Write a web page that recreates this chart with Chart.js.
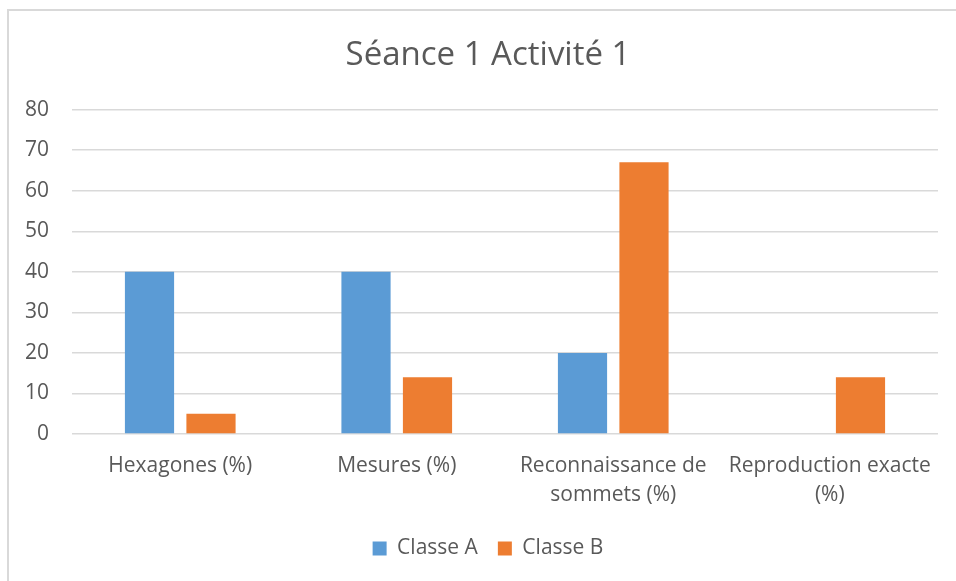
<!DOCTYPE html>
<html>
<head>
<meta charset="utf-8">
<script src="https://cdn.jsdelivr.net/npm/chart.js"></script>
<style>
    body { margin: 0; overflow: hidden; background: #ffffff; }
    #chart_container { position: relative; width: 956px; height: 581px; overflow: hidden; }
    #frame { position: absolute; left: 7px; top: 9px; width: 1000px; height: 700px; border: 2px solid #d9d9d9; }
    #myBarChart { position: absolute; left: 0; top: 0; }
</style>
</head>
<body>
<div id="chart_container">
    <div id="frame"></div>
    <canvas id="myBarChart" width="956" height="581"></canvas>
</div>
<script>
var categories = [
    "Hexagones (%)",
    "Mesures (%)",
    ["Reconnaissance de", "sommets (%)"],
    ["Reproduction exacte", "(%)"]
];
var classeA = [40, 40, 20, 0];
var classeB = [5, 14, 67, 14];
var yTicks = [0, 10, 20, 30, 40, 50, 60, 70, 80];

function makeAChart(){

    var ctx = document.getElementById("myBarChart").getContext('2d');
    Chart.defaults.font.family = "'Open Sans'";
    Chart.defaults.color = "#595959";

    var myBarChart = new Chart(ctx, {
        type: 'bar',
        data: {
            labels: categories,
            datasets: [{
                label: 'Classe A',
                data: classeA,
                backgroundColor: "#5b9bd5",
                categoryPercentage: 0.568,
                barPercentage: 0.8
            }, {
                label: 'Classe B',
                data: classeB,
                backgroundColor: "#ed7d31",
                categoryPercentage: 0.568,
                barPercentage: 0.8
            }]
        },
        options: {
            responsive: false,
            animation: false,
            layout: { padding: { left: 20, right: 0, top: 10, bottom: 12 } },
            plugins: {
                title: {
                    display: true,
                    text: 'Séance 1 Activité 1',
                    font: { size: 33, weight: 'normal' },
                    color: "#595959",
                    padding: { top: 26, bottom: 34 }
                },
                legend: {
                    position: 'bottom',
                    labels: {
                        boxWidth: 14,
                        boxHeight: 14,
                        padding: 20,
                        font: { size: 21 },
                        color: "#595959"
                    }
                },
                tooltip: { enabled: false }
            },
            scales: {
                x: {
                    grid: { display: false, drawTicks: false },
                    border: { display: false },
                    ticks: { padding: 18, font: { size: 21, lineHeight: 1.36 }, maxRotation: 0, autoSkip: false },
                    afterFit: function(axis){ axis.height = 84; }
                },
                y: {
                    min: 0,
                    max: 80,
                    afterBuildTicks: function(axis){
                        axis.ticks = yTicks.map(function(v){ return { value: v }; });
                    },
                    grid: { color: "#d9d9d9", lineWidth: 1.5, drawTicks: false },
                    border: { display: false },
                    ticks: { padding: 23, font: { size: 21 } },
                    afterFit: function(axis){ axis.width = 52; }
                },
                // empty right axis, only to leave a margin right of the plot
                y2: {
                    position: 'right',
                    min: 0,
                    max: 80,
                    grid: { display: false, drawTicks: false },
                    border: { display: false },
                    ticks: { display: false },
                    afterFit: function(axis){ axis.width = 18; }
                }
            }
        }
    });
}

makeAChart();
</script>
</body>
</html>
